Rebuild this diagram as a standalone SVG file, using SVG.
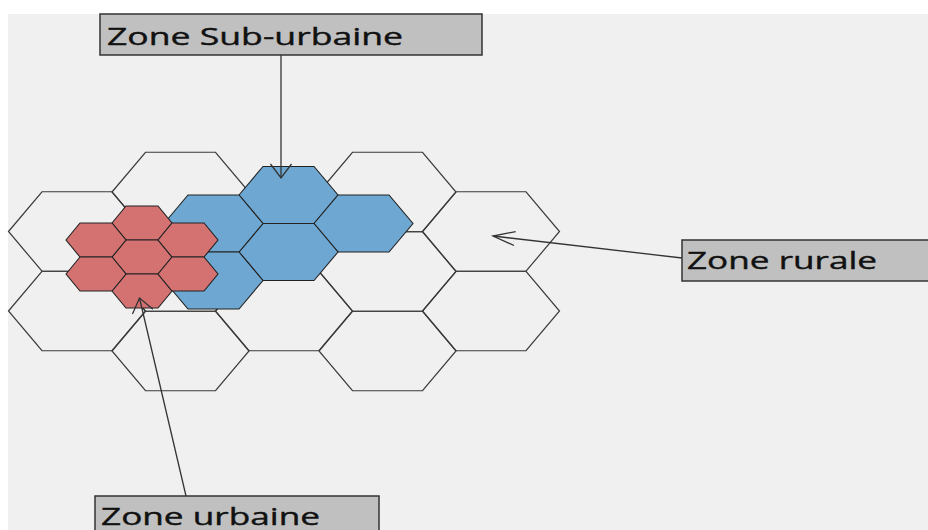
<svg xmlns="http://www.w3.org/2000/svg" xmlns:xlink="http://www.w3.org/1999/xlink" width="928" height="530" viewBox="0 0 928 530">
  <style>
    .cell-rural { fill: none; stroke: #3a3a3a; stroke-width: 1.2; }
    .cell-suburb { fill: #6ea7d1; stroke: #222; stroke-width: 1.1; }
    .cell-urban { fill: #d47272; stroke: #222; stroke-width: 1.1; }
    .label-box { fill: #c0c0c0; stroke: #333; stroke-width: 1.5; }
    .label-text { font-family: "Open Sans", "Noto Sans", "DejaVu Sans", sans-serif; font-size: 24px; fill: #111; stroke: #111; stroke-width: 0.4; }
    .pointer { fill: none; stroke: #333; stroke-width: 1.3; }
  </style>
  <defs>
    <!-- flat-topped hexagons in three sizes, centred on the origin -->
    <path id="hexLarge" d="M-68.5,0 L-35,-39.75 L35,-39.75 L68.5,0 L35,39.75 L-35,39.75 Z"/>
    <path id="hexMedium" d="M-49.5,0 L-25.5,-28.5 L25.5,-28.5 L49.5,0 L25.5,28.5 L-25.5,28.5 Z"/>
    <path id="hexSmall" d="M-30,0 L-16,-17 L16,-17 L30,0 L16,17 L-16,17 Z"/>
    <marker id="headWide" viewBox="-16 -12 18 24" refX="0" refY="0" markerWidth="18" markerHeight="24" markerUnits="userSpaceOnUse" orient="auto">
      <path d="M-14,-10.5 L0,0 L-14,10.5" fill="none" stroke="#333" stroke-width="1.3"/>
    </marker>
    <marker id="headNarrow" viewBox="-24 -9 26 18" refX="0" refY="0" markerWidth="26" markerHeight="18" markerUnits="userSpaceOnUse" orient="auto">
      <path d="M-22,-7 L0,0 L-22,7" fill="none" stroke="#333" stroke-width="1.3"/>
    </marker>
  </defs>

  <!-- canvas -->
  <rect x="0" y="0" width="928" height="530" fill="#ffffff"/>
  <rect x="8" y="14" width="920" height="516" fill="#f0f0f0"/>

  <!-- rural zone: large cells -->
  <g id="zone-rurale-cells">
    <use xlink:href="#hexLarge" class="cell-rural" x="77" y="231.5"/>
    <use xlink:href="#hexLarge" class="cell-rural" x="77" y="311"/>
    <use xlink:href="#hexLarge" class="cell-rural" x="180.5" y="192"/>
    <use xlink:href="#hexLarge" class="cell-rural" x="180.5" y="271.5"/>
    <use xlink:href="#hexLarge" class="cell-rural" x="180.5" y="351"/>
    <use xlink:href="#hexLarge" class="cell-rural" x="284" y="231.5"/>
    <use xlink:href="#hexLarge" class="cell-rural" x="284" y="311"/>
    <use xlink:href="#hexLarge" class="cell-rural" x="387.5" y="192"/>
    <use xlink:href="#hexLarge" class="cell-rural" x="387.5" y="271.5"/>
    <use xlink:href="#hexLarge" class="cell-rural" x="387.5" y="351"/>
    <use xlink:href="#hexLarge" class="cell-rural" x="491" y="231.5"/>
    <use xlink:href="#hexLarge" class="cell-rural" x="491" y="311"/>
  </g>

  <!-- suburban zone: medium cells -->
  <g id="zone-suburbaine-cells">
    <use xlink:href="#hexMedium" class="cell-suburb" x="288.5" y="195"/>
    <use xlink:href="#hexMedium" class="cell-suburb" x="363.5" y="223.5"/>
    <use xlink:href="#hexMedium" class="cell-suburb" x="288.5" y="252"/>
    <use xlink:href="#hexMedium" class="cell-suburb" x="213.5" y="223.5"/>
    <use xlink:href="#hexMedium" class="cell-suburb" x="213.5" y="280.5"/>
  </g>

  <!-- urban zone: small cells -->
  <g id="zone-urbaine-cells">
    <use xlink:href="#hexSmall" class="cell-urban" x="142" y="223"/>
    <use xlink:href="#hexSmall" class="cell-urban" x="142" y="257"/>
    <use xlink:href="#hexSmall" class="cell-urban" x="142" y="291"/>
    <use xlink:href="#hexSmall" class="cell-urban" x="96" y="240"/>
    <use xlink:href="#hexSmall" class="cell-urban" x="96" y="274"/>
    <use xlink:href="#hexSmall" class="cell-urban" x="188" y="240"/>
    <use xlink:href="#hexSmall" class="cell-urban" x="188" y="274"/>
  </g>

  <!-- callout pointers -->
  <g id="connectors">
    <line class="pointer" x1="281" y1="55" x2="281" y2="178" marker-end="url(#headWide)"/>
    <line class="pointer" x1="682" y1="258" x2="493" y2="236" marker-end="url(#headNarrow)"/>
    <line class="pointer" x1="186" y1="496" x2="139.5" y2="298" marker-end="url(#headWide)"/>
  </g>

  <!-- labels -->
  <g id="label-suburbaine">
    <rect class="label-box" x="100" y="14" width="382" height="41"/>
    <text class="label-text" x="107" y="45" textLength="296" lengthAdjust="spacingAndGlyphs">Zone Sub-urbaine</text>
  </g>
  <g id="label-rurale">
    <rect class="label-box" x="682" y="240" width="250" height="41"/>
    <text class="label-text" x="687" y="269" textLength="190" lengthAdjust="spacingAndGlyphs">Zone rurale</text>
  </g>
  <g id="label-urbaine">
    <rect class="label-box" x="95" y="496" width="284" height="40"/>
    <text class="label-text" x="101" y="525" textLength="219" lengthAdjust="spacingAndGlyphs">Zone urbaine</text>
  </g>
</svg>
